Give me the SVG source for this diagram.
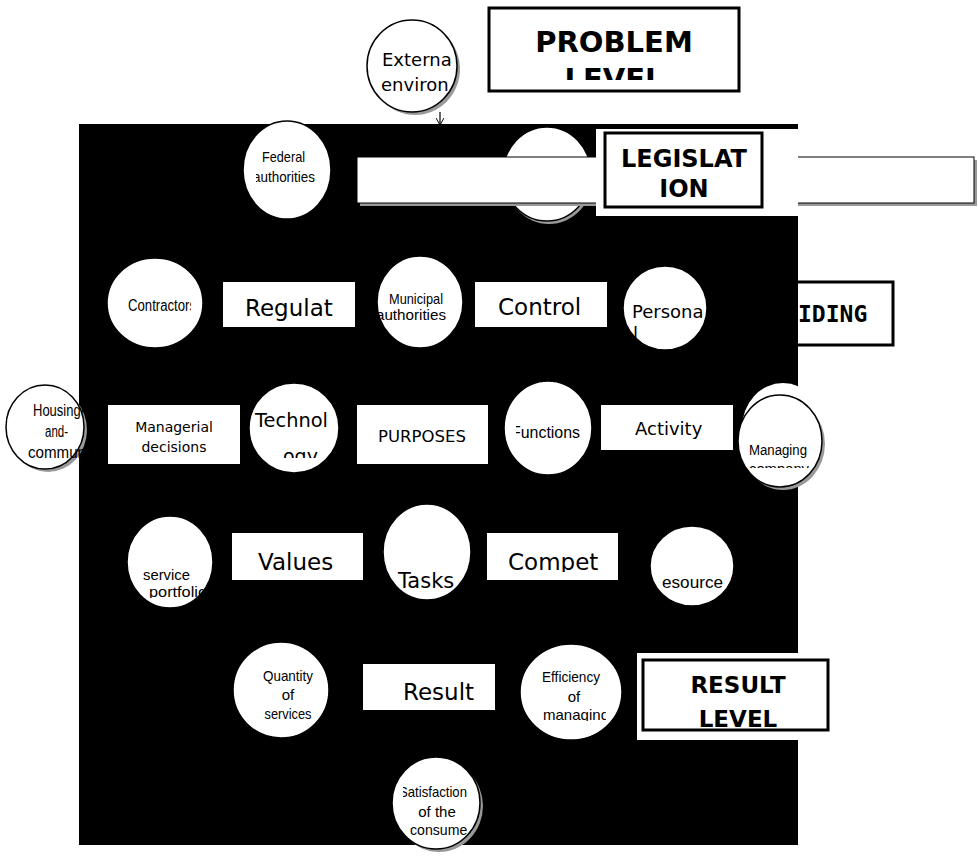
<svg xmlns="http://www.w3.org/2000/svg" width="978" height="856" viewBox="0 0 978 856">
<defs>
<style>
.bg{fill:#fff}
.blk{fill:#000}
.node{fill:#fff;stroke:#000;stroke-width:1.5}
.wr{fill:#fff}
.shadow{fill:#999}
.box{fill:#fff;stroke:#000;stroke-width:3}
.t{font-family:"DejaVu Sans",Verdana,sans-serif;fill:#000}
.c{font-family:"Liberation Sans",Arial,sans-serif;fill:#000}
.b{font-family:"DejaVu Sans",Verdana,sans-serif;font-weight:bold;fill:#000}
.m{font-family:"DejaVu Sans Mono","Liberation Mono",monospace;font-weight:bold;fill:#000}
.mid{text-anchor:middle}
.conn{stroke:#000;stroke-width:1.2;fill:none}
</style>
<marker id="arr" markerWidth="8" markerHeight="8" refX="6" refY="4" orient="auto" markerUnits="userSpaceOnUse">
<path d="M0,0 L7,4 L0,8" fill="none" stroke="#000" stroke-width="1"/>
</marker>
<clipPath id="cExt"><rect x="360" y="20" width="96" height="95"/></clipPath>
<clipPath id="cProb"><rect x="489" y="8" width="250" height="72"/></clipPath>
<clipPath id="cFed"><rect x="256" y="120" width="80" height="100"/></clipPath>
<clipPath id="cCon"><rect x="107" y="258" width="84" height="90"/></clipPath>
<clipPath id="cReg"><rect x="223" y="282" width="132" height="39"/></clipPath>
<clipPath id="cMun"><rect x="378" y="255" width="86" height="93"/></clipPath>
<clipPath id="cHou"><rect x="0" y="380" width="84" height="95"/></clipPath>
<clipPath id="cTec"><rect x="249" y="383" width="92" height="75"/></clipPath>
<clipPath id="cFun"><rect x="516" y="380" width="76" height="95"/></clipPath>
<clipPath id="cMan"><rect x="738" y="383" width="86" height="85"/></clipPath>
<clipPath id="cSer"><rect x="127" y="515" width="76" height="83"/></clipPath>
<clipPath id="cCom"><rect x="487" y="533" width="131" height="39"/></clipPath>
<clipPath id="cEff"><rect x="520" y="645" width="86" height="76"/></clipPath>
<clipPath id="cRes"><rect x="643" y="660" width="185" height="68"/></clipPath>
<clipPath id="cSat"><rect x="403" y="757" width="64" height="95"/></clipPath>
</defs>

<rect class="bg" x="0" y="0" width="978" height="856"/>

<g id="external-environment">
<ellipse class="shadow" cx="415" cy="69" rx="45" ry="46"/>
<ellipse class="node" cx="412" cy="66" rx="45" ry="46"/>
<g clip-path="url(#cExt)">
<text class="t" x="382" y="66" font-size="18">Externa</text>
<text class="t" x="381" y="91" font-size="18">environ</text>
</g>
</g>

<g id="problem-level">
<rect class="box" x="489" y="8" width="250" height="83"/>
<g clip-path="url(#cProb)">
<text class="b mid" x="614" y="52" font-size="29">PROBLEM</text>
<text class="b mid" x="614" y="89" font-size="29">LEVEL</text>
</g>
</g>

<g id="guiding-level">
<rect class="box" x="700" y="282" width="193" height="63"/>
</g>

<g id="connectors">
<line class="conn" x1="440" y1="112" x2="440" y2="124" marker-end="url(#arr)"/>
</g>

<g id="background-panel">
<rect class="blk" x="79" y="124" width="719" height="721"/>
</g>

<g id="guiding-label">
<text class="m" x="798" y="322" font-size="23">IDING</text>
</g>

<g id="federal-authorities">
<ellipse class="node" cx="287" cy="170" rx="44" ry="49"/>
<g clip-path="url(#cFed)">
<text class="c" x="262" y="162" font-size="15" textLength="43" lengthAdjust="spacingAndGlyphs">Federal</text>
<text class="c" x="253" y="182" font-size="15" textLength="62" lengthAdjust="spacingAndGlyphs">authorities</text>
</g>
</g>

<g id="hidden-circle">
<ellipse class="shadow" cx="549" cy="177" rx="44" ry="47"/>
<ellipse class="node" cx="547" cy="174" rx="44" ry="47"/>
</g>

<g id="wide-bar">
<rect class="shadow" x="360" y="160" width="617" height="46"/>
<rect fill="#fff" stroke="#000" stroke-width="1" x="357" y="157" width="617" height="46"/>
</g>

<g id="legislation">
<rect class="wr" x="596" y="129" width="202" height="87"/>
<rect class="box" x="605" y="133" width="157" height="74"/>
<text class="b mid" x="684" y="167" font-size="24">LEGISLAT</text>
<text class="b mid" x="684" y="197" font-size="24">ION</text>
</g>

<g id="contractors">
<ellipse class="node" cx="155" cy="303" rx="48" ry="45"/>
<g clip-path="url(#cCon)">
<text class="c" x="128" y="311" font-size="16" textLength="68" lengthAdjust="spacingAndGlyphs">Contractors</text>
</g>
</g>

<g id="regulation">
<rect class="wr" x="223" y="282" width="132" height="45"/>
<g clip-path="url(#cReg)">
<text class="t" x="245" y="316" font-size="23">Regulat</text>
</g>
</g>

<g id="municipal-authorities">
<ellipse class="node" cx="420" cy="302" rx="43" ry="46"/>
<g clip-path="url(#cMun)">
<text class="c" x="389" y="304" font-size="15" textLength="54" lengthAdjust="spacingAndGlyphs">Municipal</text>
<text class="c" x="376" y="320" font-size="15" textLength="70" lengthAdjust="spacingAndGlyphs">authorities</text>
</g>
</g>

<g id="control">
<rect class="wr" x="475" y="282" width="132" height="45"/>
<text class="t" x="498" y="315" font-size="23">Control</text>
</g>

<g id="personal">
<ellipse class="node" cx="665" cy="308" rx="42" ry="42"/>
<text class="t" x="632" y="318" font-size="18">Persona</text>
<text class="t" x="633" y="340" font-size="18">l</text>
</g>

<g id="housing">
<ellipse class="shadow" cx="48" cy="430" rx="39" ry="42"/>
<ellipse class="node" cx="45" cy="427" rx="39" ry="42"/>
<g clip-path="url(#cHou)">
<text class="c" x="33" y="416" font-size="16" textLength="52" lengthAdjust="spacingAndGlyphs">Housing-</text>
<text class="c" x="45" y="437" font-size="16" textLength="23" lengthAdjust="spacingAndGlyphs">and-</text>
<text class="c" x="28" y="458" font-size="16" textLength="58" lengthAdjust="spacingAndGlyphs">commun</text>
</g>
</g>

<g id="managerial-decisions">
<rect class="wr" x="108" y="405" width="132" height="59"/>
<text class="t mid" x="174" y="432" font-size="14">Managerial</text>
<text class="t mid" x="174" y="452" font-size="14">decisions</text>
</g>

<g id="technology">
<ellipse class="node" cx="294" cy="428" rx="45" ry="45"/>
<g clip-path="url(#cTec)">
<text class="t" x="255" y="427" font-size="19" textLength="73" lengthAdjust="spacingAndGlyphs">Technol</text>
<text class="t" x="283" y="463" font-size="19">ogy</text>
</g>
</g>

<g id="purposes">
<rect class="wr" x="357" y="405" width="131" height="59"/>
<text class="t mid" x="422" y="442" font-size="16.5">PURPOSES</text>
</g>

<g id="functions">
<ellipse class="node" cx="548" cy="428" rx="44" ry="47"/>
<g clip-path="url(#cFun)">
<text class="c" x="511" y="438" font-size="16" textLength="69" lengthAdjust="spacingAndGlyphs">Functions</text>
</g>
</g>

<g id="activity">
<rect class="wr" x="601" y="405" width="132" height="45"/>
<text class="t" x="635" y="435" font-size="18">Activity</text>
</g>

<g id="managing-company">
<ellipse class="wr" cx="783" cy="428" rx="41" ry="45"/>
<ellipse class="shadow" cx="783" cy="444" rx="42" ry="46"/>
<ellipse class="node" cx="780" cy="441" rx="42" ry="46"/>
<g clip-path="url(#cMan)">
<text class="c" x="749" y="455" font-size="14" textLength="58" lengthAdjust="spacingAndGlyphs">Managing</text>
<text class="c" x="749" y="474" font-size="14" textLength="60" lengthAdjust="spacingAndGlyphs">company</text>
</g>
</g>

<g id="service-portfolio">
<ellipse class="node" cx="170" cy="562" rx="43" ry="46"/>
<g clip-path="url(#cSer)">
<text class="c" x="143" y="580" font-size="15" textLength="47" lengthAdjust="spacingAndGlyphs">service</text>
<text class="c" x="149" y="597" font-size="15" textLength="58" lengthAdjust="spacingAndGlyphs">portfolio</text>
</g>
</g>

<g id="values">
<rect class="wr" x="232" y="533" width="131" height="47"/>
<text class="t" x="258" y="570" font-size="23">Values</text>
</g>

<g id="tasks">
<ellipse class="node" cx="427" cy="552" rx="44" ry="48"/>
<text class="t" x="398" y="588" font-size="21">Tasks</text>
</g>

<g id="competence">
<rect class="wr" x="487" y="533" width="131" height="47"/>
<g clip-path="url(#cCom)">
<text class="t" x="508" y="570" font-size="23">Compet</text>
</g>
</g>

<g id="resources">
<ellipse class="node" cx="692" cy="566" rx="42" ry="40"/>
<text class="c" x="662" y="588" font-size="17" textLength="61" lengthAdjust="spacingAndGlyphs">esource</text>
</g>

<g id="quantity-of-services">
<ellipse class="node" cx="281" cy="690" rx="48" ry="48"/>
<text class="c mid" x="288" y="681" font-size="15" textLength="50" lengthAdjust="spacingAndGlyphs">Quantity</text>
<text class="c mid" x="288" y="700" font-size="15">of</text>
<text class="c mid" x="288" y="719" font-size="15" textLength="47" lengthAdjust="spacingAndGlyphs">services</text>
</g>

<g id="result">
<rect class="wr" x="363" y="664" width="132" height="46"/>
<text class="t" x="403" y="700" font-size="23">Result</text>
</g>

<g id="efficiency">
<ellipse class="node" cx="571" cy="692" rx="51" ry="48"/>
<g clip-path="url(#cEff)">
<text class="c" x="542" y="682" font-size="15" textLength="58" lengthAdjust="spacingAndGlyphs">Efficiency</text>
<text class="c mid" x="574" y="702" font-size="15">of</text>
<text class="c" x="543" y="720" font-size="15" textLength="66" lengthAdjust="spacingAndGlyphs">managing</text>
</g>
</g>

<g id="result-level">
<rect class="wr" x="637" y="653" width="161" height="87"/>
<rect class="box" x="643" y="660" width="185" height="70"/>
<g clip-path="url(#cRes)">
<text class="b mid" x="738" y="693" font-size="23">RESULT</text>
<text class="b mid" x="738" y="727" font-size="23">LEVEL</text>
</g>
</g>

<g id="satisfaction">
<ellipse class="shadow" cx="439" cy="806" rx="44" ry="46"/>
<ellipse class="node" cx="436" cy="803" rx="44" ry="46"/>
<g clip-path="url(#cSat)">
<text class="c" x="399" y="797" font-size="15" textLength="68" lengthAdjust="spacingAndGlyphs">Satisfaction</text>
<text class="c mid" x="437" y="817" font-size="15">of the</text>
<text class="c" x="410" y="835" font-size="15" textLength="62" lengthAdjust="spacingAndGlyphs">consumer</text>
</g>
</g>
</svg>
